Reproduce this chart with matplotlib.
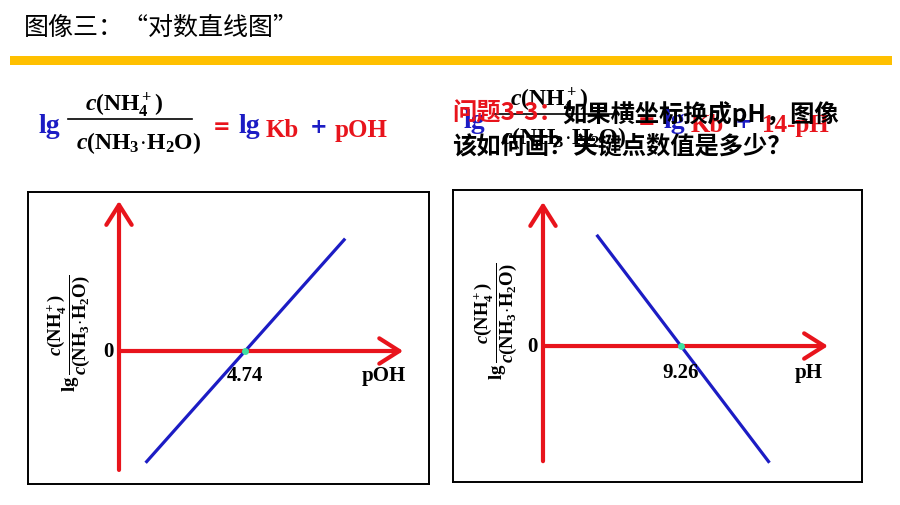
import numpy as np
import matplotlib
matplotlib.use('Agg')
import matplotlib.pyplot as plt

plt.rcParams['mathtext.fontset'] = 'custom'
plt.rcParams['mathtext.rm'] = 'Liberation Serif:bold'
plt.rcParams['mathtext.it'] = 'Liberation Serif:italic:bold'
plt.rcParams['mathtext.bf'] = 'Liberation Serif:bold'

# straight lines
poh_line = [1.0, 8.5]
lg_ratio_poh = [-3.74, 3.76]
poh_key = 4.74

ph_line = [3.6, 15.2]
lg_ratio_ph = [5.66, -5.94]
ph_key = 9.26

title = "图像三：“对数直线图”"
question_red = "问题3-3："
question_1 = "如果横坐标换成pH，图像"
question_2 = "该如何画？关键点数值是多少？"

BLUE = '#1c1cc4'
RED = '#e8141c'
CJK = ['Noto Sans CJK SC', 'DejaVu Sans']
SERIF = 'Liberation Serif'

NUM = r'$c(\mathrm{NH_4^+})$'
DEN = r'$c(\mathrm{NH_3\!\cdot\! H_2O})$'
YLAB = r'$\mathrm{lg}\,\dfrac{c(\mathrm{NH_4^+})}{c(\mathrm{NH_3\!\cdot\! H_2O})}$'

W, H = 900, 506
fig = plt.figure(figsize=(9, 5.06), dpi=100)

bg = fig.add_axes([0, 0, 1, 1])
bg.set_xlim(0, W)
bg.set_ylim(H, 0)
bg.axis('off')


def px_box(x0, y0, x1, y1):
    return [x0 / W, 1 - y1 / H, (x1 - x0) / W, (y1 - y0) / H]


# header
bg.text(24, 28, title, fontsize=18, family=CJK, va='center', ha='left')
bg.fill_between([10, 892], 57, 66, color='#ffc000', lw=0)


def formula(dx, dy, last, last_x):
    def t(s, x, y, c, size=17, fam=SERIF):
        bg.text(x + dx, y + dy, s, color=c, fontsize=size, ha='center',
                va='center', family=fam, weight='bold')
    t('lg', 49, 126, BLUE, 20)
    t(NUM, 124, 106, 'black')
    bg.plot([68 + dx, 192 + dx], [120 + dy, 120 + dy], color='black', lw=1.2)
    t(DEN, 139, 143, 'black')
    t('=', 222, 127, RED, 15, 'DejaVu Sans')
    t('lg', 249, 126, BLUE, 20)
    t('Kb', 282, 130, RED, 18)
    t('+', 319, 127, BLUE, 15, 'DejaVu Sans')
    t(last, last_x, 130, RED, 18)


formula(0, 0, 'pOH', 361)
formula(425, -5, '14-pH', 370)

# question text overlapping the second formula, as in the slide
bg.text(452, 114, question_red, color=RED, fontsize=17.5, family=CJK,
        weight='bold', va='center', ha='left')
bg.text(562, 114, question_1, color='black', fontsize=17.5, family=CJK,
        weight='bold', va='center', ha='left')
bg.text(452, 146, question_2, color='black', fontsize=17.5, family=CJK,
        weight='bold', va='center', ha='left')


def panel(box, xlim, ylim, ytop, ybot, xend, xs, ys, key, xname,
          key_y, name_x, lab_xy):
    ax = fig.add_axes(px_box(*box))
    ax.set_facecolor('none')
    ax.set_xlim(*xlim)
    ax.set_ylim(*ylim)
    ax.set_xticks([])
    ax.set_yticks([])
    for s in ax.spines.values():
        s.set_linewidth(1.4)
        s.set_color('black')
    arrow = dict(arrowstyle='->,head_length=0.6,head_width=0.38',
                 color=RED, lw=3, mutation_scale=24, shrinkA=0, shrinkB=0)
    ax.annotate('', xy=(0, ytop), xytext=(0, ybot), arrowprops=arrow)
    ax.annotate('', xy=(xend, 0), xytext=(0, 0), arrowprops=arrow)
    ax.plot(xs, ys, color=BLUE, lw=2.3, solid_capstyle='butt', zorder=3)
    ax.plot([key], [0], 'o', color='#3fe0a0', ms=5, zorder=4, mec='none')
    style = dict(fontsize=15, family=SERIF, weight='bold', va='center')
    ax.text(-0.5 * (xlim[1] - xlim[0]) / 40, 0, '0', ha='right', **style)
    ax.text(key, key_y, f'{key:.2f}', ha='center', **style)
    ax.text(name_x, key_y, xname, ha='center', **style)
    ax.text(*lab_xy, YLAB, rotation=90, fontsize=13.5, color='black',
            ha='center', va='center', transform=bg.transData)
    return ax


panel((28, 193, 429, 485), (-3.42, 11.65), (-4.45, 5.32), 5.02, -3.98, 10.68,
      poh_line, lg_ratio_poh, poh_key, 'pOH', -0.8, 9.96, (69, 333))
panel((453, 191, 862, 483), (-6.04, 21.41), (-6.92, 7.94), 7.33, -5.86, 19.13,
      ph_line, lg_ratio_ph, ph_key, 'pH', -1.32, 17.8, (496, 321))

fig.savefig('out.png', dpi=100)
